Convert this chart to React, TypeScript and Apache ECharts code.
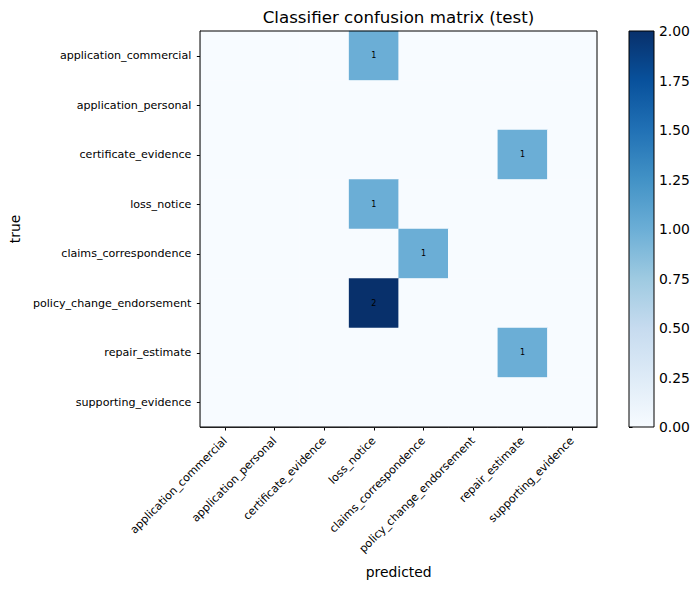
import React, { useEffect, useRef } from "react";
import * as echarts from "echarts";

const classes = [
  "application_commercial",
  "application_personal",
  "certificate_evidence",
  "loss_notice",
  "claims_correspondence",
  "policy_change_endorsement",
  "repair_estimate",
  "supporting_evidence",
];

// rows = true class, columns = predicted class
const matrixRows: number[][] = [
  [0, 0, 0, 1, 0, 0, 0, 0],
  [0, 0, 0, 0, 0, 0, 0, 0],
  [0, 0, 0, 0, 0, 0, 1, 0],
  [0, 0, 0, 1, 0, 0, 0, 0],
  [0, 0, 0, 0, 1, 0, 0, 0],
  [0, 0, 0, 2, 0, 0, 0, 0],
  [0, 0, 0, 0, 0, 0, 1, 0],
  [0, 0, 0, 0, 0, 0, 0, 0],
];

const colorbarTicks = [0, 0.25, 0.5, 0.75, 1.0, 1.25, 1.5, 1.75, 2.0];
const bluesStops = [
  "#f7fbff",
  "#deebf7",
  "#c6dbef",
  "#9ecae1",
  "#6baed6",
  "#4292c6",
  "#2171b5",
  "#08519c",
  "#08306b",
];

const FONT = "DejaVu Sans";

export default function App() {
  const ref = useRef<HTMLDivElement>(null);
  useEffect(() => {
    if (!ref.current) return;
    const chart = echarts.init(ref.current, undefined, { renderer: "svg" });
    const data: [number, number, number][] = [];
    matrixRows.forEach((row, r) =>
      row.forEach((v, c) => data.push([c, r, v]))
    );
    const vmin = colorbarTicks[0];
    const vmax = colorbarTicks[colorbarTicks.length - 1];
    const gridL = 200, gridT = 31, gridW = 397, gridH = 396;
    const cbL = 629, cbW = 25;
    chart.setOption({
      animation: false,
      textStyle: { fontFamily: FONT },
      graphic: [
        {
          type: "text",
          x: gridL + gridW / 2,
          y: 17,
          style: {
            text: "Classifier confusion matrix (test)",
            fontSize: 16.67,
            fontFamily: FONT,
            fill: "#000",
            textAlign: "center",
            textVerticalAlign: "middle",
          },
        },
        {
          type: "rect",
          shape: { x: cbL, y: gridT, width: cbW, height: gridH },
          style: {
            fill: new echarts.graphic.LinearGradient(
              0,
              1,
              0,
              0,
              bluesStops.map((c, i) => ({ offset: i / (bluesStops.length - 1), color: c }))
            ),
            stroke: "#000",
            lineWidth: 1,
          },
          z: 10,
        },
        {
          type: "rect",
          shape: { x: gridL, y: gridT, width: gridW, height: gridH },
          style: { fill: "none", stroke: "#000", lineWidth: 1 },
          z: 100,
        },
      ],
      visualMap: {
        show: false,
        type: "continuous",
        min: vmin,
        max: vmax,
        seriesIndex: 0,
        inRange: { color: bluesStops },
      },
      grid: [
        { left: gridL, top: gridT, width: gridW, height: gridH, show: false },
        { left: cbL, top: gridT, width: cbW, height: gridH, show: false },
      ],
      xAxis: [
        {
          type: "category",
          gridIndex: 0,
          data: classes,
          name: "predicted",
          nameLocation: "middle",
          nameGap: 138,
          nameTextStyle: { fontSize: 13.9, color: "#000", fontFamily: FONT },
          axisLine: { show: true, onZero: false, lineStyle: { color: "#000", width: 1 } },
          axisTick: { show: true, alignWithLabel: true, length: 3.5, lineStyle: { color: "#000" } },
          axisLabel: {
            rotate: 45,
            fontSize: 11.1,
            color: "#000",
            fontFamily: FONT,
            interval: 0,
            margin: 12,
          },
          splitLine: { show: false },
        },
        {
          type: "value",
          gridIndex: 1,
          show: false,
          min: 0,
          max: 1,
        },
      ],
      yAxis: [
        {
          type: "category",
          gridIndex: 0,
          data: classes,
          inverse: true,
          name: "true",
          nameLocation: "middle",
          nameGap: 176,
          nameTextStyle: { fontSize: 13.9, color: "#000", fontFamily: FONT },
          axisLine: { show: true, onZero: false, lineStyle: { color: "#000", width: 1 } },
          axisTick: { show: true, alignWithLabel: true, length: 3.5, lineStyle: { color: "#000" } },
          axisLabel: { fontSize: 11.1, color: "#000", fontFamily: FONT, interval: 0, margin: 9 },
          splitLine: { show: false },
        },
        {
          type: "value",
          gridIndex: 1,
          position: "right",
          min: vmin,
          max: vmax,
          interval: 0.25,
          axisLine: { show: false },
          axisTick: { show: true, length: 3.5, lineStyle: { color: "#000" } },
          axisLabel: {
            fontSize: 13.9,
            color: "#000",
            fontFamily: FONT,
            margin: 5,
            formatter: (v: number) => v.toFixed(2),
          },
          splitLine: { show: false },
        },
      ],
      series: [
        {
          type: "heatmap",
          xAxisIndex: 0,
          yAxisIndex: 0,
          data,
          label: {
            show: true,
            fontSize: 8,
            color: "#000",
            fontFamily: FONT,
            formatter: (p: any) => (p.value[2] ? String(p.value[2]) : ""),
          },
          itemStyle: { borderWidth: 0 },
          emphasis: { disabled: true },
        },
      ],
    });
    return () => chart.dispose();
  }, []);
  return (
    <div
      ref={ref}
      style={{ position: "fixed", left: 0, top: 0, width: 699, height: 590, background: "#fff" }}
    />
  );
}
